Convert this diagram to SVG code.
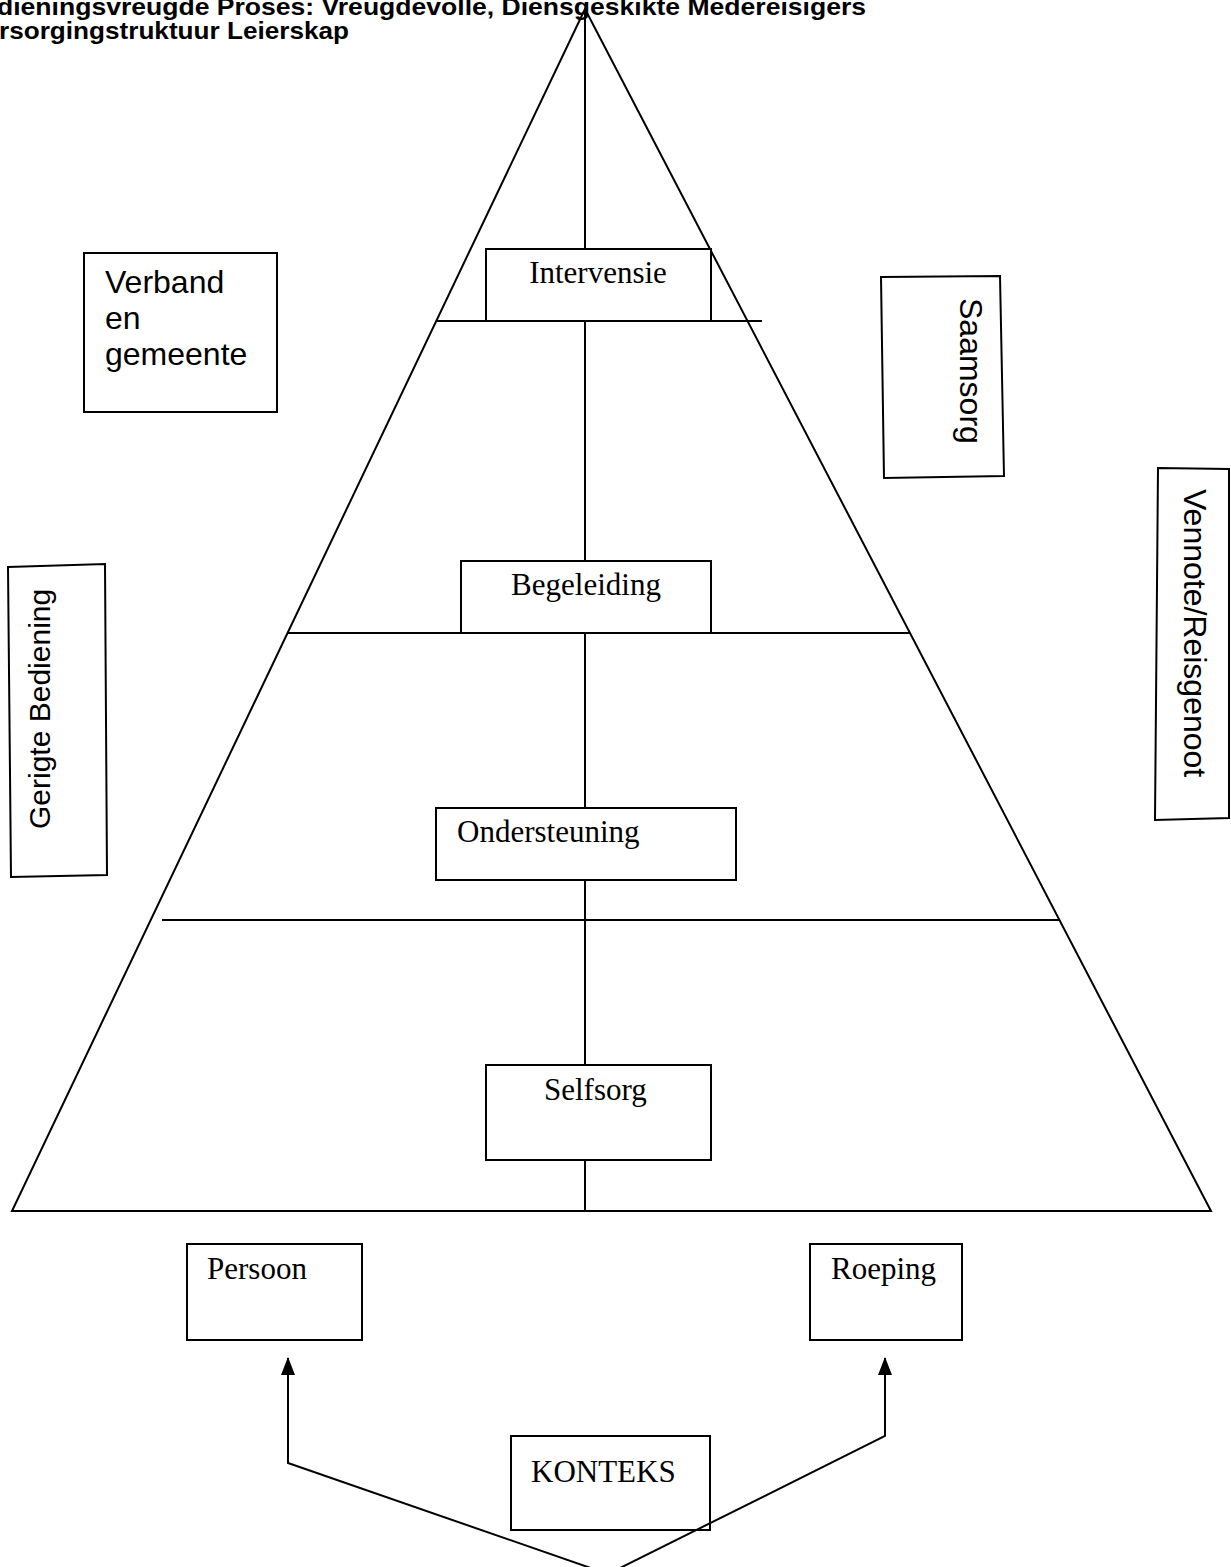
<svg xmlns="http://www.w3.org/2000/svg" width="1231" height="1567" viewBox="0 0 1231 1567">
<defs>
<style>
.ln{stroke:#000;stroke-width:2;fill:none}
.bx{stroke:#000;stroke-width:2;fill:#fff}
.tr{font-family:"Liberation Serif","Times New Roman",serif;font-size:31px;fill:#000}
.ar{font-family:"Liberation Sans",Arial,sans-serif;font-size:32px;fill:#000}
.tt{font-family:"Liberation Sans",Arial,sans-serif;font-size:24px;font-weight:bold;fill:#000}
</style>
<marker id="ah" viewBox="0 0 18 14" refX="17" refY="7" markerWidth="18" markerHeight="14" markerUnits="userSpaceOnUse" orient="auto">
<path d="M0,0 L18,7 L0,14 z" fill="#000"/>
</marker>
</defs>
<rect width="1231" height="1567" fill="#fff"/>
<g id="title">
<text class="tt" x="-3" y="15" textLength="869" lengthAdjust="spacingAndGlyphs">dieningsvreugde Proses: Vreugdevolle, Diensgeskikte Medereisigers</text>
<text class="tt" x="-1" y="39" textLength="350" lengthAdjust="spacingAndGlyphs">rsorgingstruktuur Leierskap</text>
</g>
<g id="pyramid">
<polygon class="ln" points="585,9 12,1211 1211,1211"/>
<line class="ln" x1="585" y1="9" x2="585" y2="1211"/>
<line class="ln" x1="437" y1="321" x2="762" y2="321"/>
<line class="ln" x1="288" y1="633" x2="910" y2="633"/>
<line class="ln" x1="162" y1="920" x2="1059" y2="920"/>
</g>
<g id="intervensie">
<rect class="bx" x="486" y="249" width="225" height="72"/>
<text class="tr" x="598" y="283" text-anchor="middle">Intervensie</text>
</g>
<g id="begeleiding">
<rect class="bx" x="461" y="561" width="250" height="72"/>
<text class="tr" x="586" y="595" text-anchor="middle">Begeleiding</text>
</g>
<g id="ondersteuning">
<rect class="bx" x="436" y="808" width="300" height="72"/>
<text class="tr" x="457" y="842">Ondersteuning</text>
</g>
<g id="selfsorg">
<rect class="bx" x="486" y="1065" width="225" height="95"/>
<text class="tr" x="544" y="1100">Selfsorg</text>
</g>
<g id="verband">
<rect class="bx" x="84" y="253" width="193" height="159"/>
<text class="ar" x="105" y="293">Verband</text>
<text class="ar" x="105" y="329">en</text>
<text class="ar" x="105" y="365">gemeente</text>
</g>
<g id="saamsorg">
<polygon class="bx" points="881,277 1000,276 1004,476 884,478"/>
<text class="ar" transform="translate(960,298) rotate(90)">Saamsorg</text>
</g>
<g id="vennote">
<polygon class="bx" points="1158,468 1229,469 1229,818 1155,820"/>
<text class="ar" transform="translate(1184,489) rotate(90)">Vennote/Reisgenoot</text>
</g>
<g id="gerigte">
<polygon class="bx" points="8,567 105,564 107,875 11,877"/>
<text class="ar" style="font-size:30px" transform="translate(50,829) rotate(-90)">Gerigte Bediening</text>
</g>
<g id="persoon">
<rect class="bx" x="187" y="1244" width="175" height="96"/>
<text class="tr" x="207" y="1279">Persoon</text>
</g>
<g id="roeping">
<rect class="bx" x="810" y="1244" width="152" height="96"/>
<text class="tr" x="831" y="1279">Roeping</text>
</g>
<g id="konteks">
<rect class="bx" x="511" y="1436" width="199" height="94"/>
<text class="tr" x="531" y="1482">KONTEKS</text>
</g>
<g id="connectors">
<polyline class="ln" points="608,1574 288,1463 288,1358" marker-end="url(#ah)"/>
<polyline class="ln" points="608,1574 885,1436 885,1358" marker-end="url(#ah)"/>
</g>
</svg>
